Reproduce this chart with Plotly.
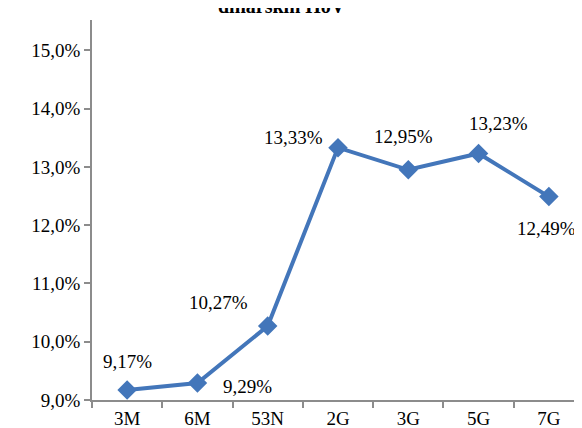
import plotly.graph_objects as go

categories = ["3M", "6M", "53N", "2G", "3G", "5G", "7G"]
values = [9.17, 9.29, 10.27, 13.33, 12.95, 13.23, 12.49]
value_labels = ["9,17%", "9,29%", "10,27%", "13,33%", "12,95%", "13,23%", "12,49%"]
y_tick_vals = [9, 10, 11, 12, 13, 14, 15]
y_tick_text = ["9,0%", "10,0%", "11,0%", "12,0%", "13,0%", "14,0%", "15,0%"]
title_text = "dinarskih HoV"

# label offsets (px) relative to each point
label_dx = [0, 50, -49, -45, -5, 20, -2]
label_dy = [29, -3, 23, 10, 33, 30, -32]

FONT = "Liberation Serif"
BLUE = "#4376BA"
AXIS = "#8C8C8C"

fig = go.Figure()
fig.add_trace(go.Scatter(
    x=categories, y=values, mode="lines+markers",
    line=dict(color=BLUE, width=4),
    marker=dict(symbol="diamond", size=15, color=BLUE),
    hoverinfo="skip", showlegend=False,
))

for c, v, t, dx, dy in zip(categories, values, value_labels, label_dx, label_dy):
    fig.add_annotation(x=c, y=v, text=t, showarrow=False, xshift=dx, yshift=dy,
                       font=dict(family=FONT, size=19, color="#000000"))

fig.add_annotation(x=0.386, y=1.003, xref="paper", yref="paper", yanchor="bottom",
                   text="<b>" + title_text + "</b>", showarrow=False,
                   font=dict(family=FONT, size=20, color="#000000"))

fig.update_layout(
    template="none",
    width=582, height=428,
    margin=dict(l=84, r=6, t=12, b=36),
    paper_bgcolor="white", plot_bgcolor="white",
    font=dict(family=FONT, size=19, color="#000000"),
)
fig.update_xaxes(
    type="category", range=[-0.5, 6.5], showgrid=False, zeroline=False,
    automargin=False,
    showline=True, linecolor=AXIS, linewidth=1.5,
    ticks="outside", tickson="boundaries", ticklen=6, tickcolor=AXIS, tickwidth=1.5,
    tickfont=dict(family=FONT, size=19, color="#000000"),
)
fig.update_yaxes(
    range=[9, 15.52], showgrid=False, zeroline=False,
    automargin=False,
    showline=True, linecolor=AXIS, linewidth=1.5,
    ticks="outside", ticklen=6, tickcolor=AXIS, tickwidth=1.5,
    tickvals=y_tick_vals, ticktext=y_tick_text,
    tickfont=dict(family=FONT, size=19, color="#000000"),
)

fig.write_html("out.html")
